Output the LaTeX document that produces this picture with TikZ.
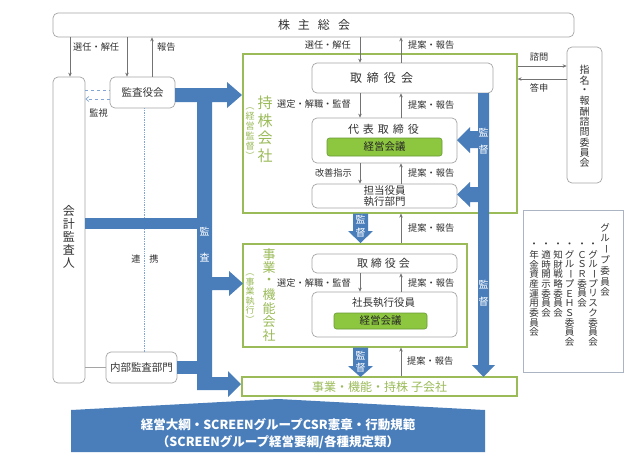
\documentclass[tikz,border=0pt]{standalone}
\usepackage{fontspec}
\usepackage{graphicx}
\setmainfont{Noto Sans CJK JP}
\usetikzlibrary{arrows.meta}
\definecolor{mblue}{RGB}{74,126,187}
\definecolor{bgreen}{RGB}{155,187,89}
\definecolor{fgreen}{RGB}{141,198,63}
\definecolor{dgreen}{RGB}{105,155,55}
\definecolor{bgray}{RGB}{165,165,165}
\definecolor{tgray}{RGB}{50,50,50}
\definecolor{arrgray}{RGB}{115,115,115}
\definecolor{lblue}{RGB}{130,165,215}
\definecolor{grpgray}{RGB}{170,180,195}
\ExplSyntaxOn
\dim_new:N \l_tate_step_dim
\cs_new:Npn \tate_char:n #1
  {
    \str_case:nnF {#1}
      {
        {ー}{\rotatebox[origin=c]{-90}{ー}}
        {（}{\rotatebox[origin=c]{-90}{（}}
        {）}{\rotatebox[origin=c]{-90}{）}}
      }
      {#1}
  }
\NewDocumentCommand \tate { O{1.1em} m }
  {
    \dim_set:Nn \l_tate_step_dim {#1}
    \vbox:n
      {
        \offinterlineskip
        \tl_map_inline:nn {#2}
          {
            \hbox_to_wd:nn {1.3em}
              { \hss \vbox_to_ht:nn {\l_tate_step_dim} { \vss \hbox:n { \tate_char:n {##1} } \vss } \hss }
          }
      }
  }
\ExplSyntaxOff
\begin{document}
\begin{tikzpicture}[x=1pt,y=-1pt,
  box/.style={draw=bgray, rounded corners=5pt, fill=white, line width=0.7pt, inner sep=0pt},
  gbox/.style={draw=bgreen, line width=1.2pt, fill=white, inner sep=0pt},
  kbox/.style={draw=dgreen, fill=fgreen, rounded corners=2.5pt, line width=0.6pt, inner sep=0pt, font=\fontsize{10.5}{12}\selectfont, text=black!85},
  arr/.style={draw=arrgray, line width=0.75pt, -{Stealth[length=4pt,width=3.5pt]}},
  lab/.style={font=\fontsize{9.2}{10}\selectfont, text=tgray, inner sep=0pt},
  blu/.style={fill=mblue, draw=none},
  wtx/.style={text=white, font=\fontsize{10}{11}\selectfont, inner sep=0pt},
  btx/.style={font=\fontsize{10.5}{12}\selectfont, text=black!80, inner sep=0pt},
  gtx/.style={text=bgreen, inner sep=0pt},
]
\fill[white] (0,0) rectangle (633,459);
\useasboundingbox (0,0) rectangle (633,459);

% ---------- boxes ----------
\node[box, minimum width=521pt, minimum height=24pt] (kabu) at (313.5,25) {};
\node[btx, font=\fontsize{12}{14}\selectfont] (kabut) at (314,25) {株\hspace{8pt}主\hspace{8pt}総\hspace{8pt}会};

\node[box, minimum width=32pt, minimum height=306pt] (kaikei) at (69,230) {};
\node[btx, font=\fontsize{12}{12}\selectfont] (kaikeit) at (69,237) {\tate[13.2pt]{会計監査人}};

\node[box, btx, minimum width=65pt, minimum height=31pt] (kansa) at (142.5,92.5) {監査役会};
\node[box, btx, minimum width=71pt, minimum height=31pt] (naibu) at (141.5,367.5) {内部監査部門};

\node[gbox, minimum width=274pt, minimum height=159pt] (hold) at (380,133.5) {};
\node[box, minimum width=181pt, minimum height=30pt] (bod1) at (402.5,78) {};
\node[btx, font=\fontsize{12}{14}\selectfont] (bod1t) at (381.5,78) {取\hspace{5pt}締\hspace{5pt}役\hspace{5pt}会};
\node[box, minimum width=145pt, minimum height=45pt] (rep) at (384.5,140.5) {};
\node[btx, font=\fontsize{11}{13}\selectfont] (rept) at (383.5,129) {代\hspace{4pt}表\hspace{4pt}取\hspace{4pt}締\hspace{4pt}役};
\node[kbox, minimum width=115pt, minimum height=18pt] (kei1) at (384.5,147) {経営会議};
\node[box, btx, minimum width=145pt, minimum height=24pt, align=center, font=\fontsize{10.5}{11.5}\selectfont] (tanto) at (384.5,196) {担当役員\\執行部門};

\node[box, minimum width=35pt, minimum height=136pt] (shimei) at (584.5,115) {};
\node[btx, font=\fontsize{10}{10}\selectfont] (shimeit) at (584.5,116.5) {\tate[10.3pt]{指名・報酬諮問委員会}};

\node[gbox, minimum width=224pt, minimum height=103pt] (sub) at (355,295.5) {};
\node[box, minimum width=145pt, minimum height=19pt] (bod2) at (384.5,263.5) {};
\node[btx, font=\fontsize{11}{13}\selectfont] (bod2t) at (383.5,263.5) {取\hspace{3pt}締\hspace{3pt}役\hspace{3pt}会};
\node[box, minimum width=145pt, minimum height=45pt] (pres) at (384.5,314.5) {};
\node[btx, font=\fontsize{10.5}{12}\selectfont] (prest) at (383.5,303) {社長執行役員};
\node[kbox, minimum width=93pt, minimum height=16pt] (kei2) at (380.5,321) {経営会議};

\node[gbox, minimum width=275pt, minimum height=19pt, gtx, font=\fontsize{12}{14}\selectfont] (kogai) at (379.5,386.5) {事業・機能・持株\hspace{3pt}子会社};

\node[draw=grpgray, line width=0.7pt, fill=white, minimum width=100pt, minimum height=162pt, inner sep=0pt] (group) at (573,291) {};

% green vertical titles
\node[gtx, font=\fontsize{15}{15}\selectfont] (holdt) at (265,129.5) {\tate[17.5pt]{持株会社}};
\node[gtx, font=\fontsize{9}{9}\selectfont] (holds) at (250,131) {\tate[10pt]{（経営監督）}};
\node[gtx, font=\fontsize{13}{13}\selectfont] (subt) at (269,295) {\tate[13.5pt]{事業・機能会社}};
\node[gtx, font=\fontsize{9}{9}\selectfont] (subs) at (250,296) {\tate[9.6pt]{（事業執行）}};

% group committee list
\begin{scope}[every node/.style={btx, font=\fontsize{9.5}{10}\selectfont, anchor=north}]
\node (g0) at (605,222) {\tate[10.8pt]{グループ委員会}};
\node (g1) at (593,240) {\tate[9.7pt]{・グループリスク委員会}};
\node (g2) at (582,240) {\tate[9.7pt]{・ＣＳＲ委員会}};
\node (g3) at (569.5,240) {\tate[9.7pt]{・グループＥＨＳ委員会}};
\node (g4) at (558,240) {\tate[9.7pt]{・知財戦略委員会}};
\node (g5) at (546,240) {\tate[9.7pt]{・適時開示委員会}};
\node (g6) at (534,240) {\tate[9.7pt]{・年金資産運用委員会}};
\end{scope}

% ---------- gray connectors ----------
\coordinate (xL) at (360,0);
\coordinate (xR) at (401,0);
\coordinate (xa) at (70,0);
\coordinate (xb) at (127,0);
\coordinate (xc) at (152,0);
\coordinate (xv) at (144,0);
\coordinate (yq) at (0,66);
\coordinate (ya) at (0,79);
\coordinate (yd1) at (0,90);
\coordinate (yd2) at (0,99);

\draw[arr] (kabu.south -| xL) -- (bod1.north -| xL);
\draw[arr] (bod1.north -| xR) -- (kabu.south -| xR);
\draw[arr] (bod1.south -| xL) -- (rep.north -| xL);
\draw[arr] (rep.north -| xR) -- (bod1.south -| xR);
\draw[arr] (rep.south -| xL) -- (tanto.north -| xL);
\draw[arr] (tanto.north -| xR) -- (rep.south -| xR);
\draw[arr] (sub.north -| xR) -- (hold.south -| xR);
\draw[arr] (bod2.south -| xL) -- (pres.north -| xL);
\draw[arr] (pres.north -| xR) -- (bod2.south -| xR);
\draw[arr] (kogai.north -| xR) -- (sub.south -| xR);
\draw[arr] (kabu.south -| xa) -- (kaikei.north -| xa);
\draw[arr] (kabu.south -| xb) -- (kansa.north -| xb);
\draw[arr] (kansa.north -| xc) -- (kabu.south -| xc);
\draw[arr] (hold.east |- yq) -- (shimei.west |- yq);
\draw[arr] (shimei.west |- ya) -- (hold.east |- ya);

\draw[lblue, dashed, line width=0.7pt] (kaikei.east |- yd1) -- (kansa.west |- yd1);
\draw[lblue, dashed, line width=0.7pt, -{Straight Barb[length=3pt,width=5pt]}] (kansa.west |- yd2) -- (kaikei.east |- yd2);
\draw[lblue, densely dotted, line width=0.7pt] (kansa.south -| xv) -- (naibu.north -| xv);
\draw[bgray, line width=0.7pt] (kaikei.east |- naibu.west) -- (naibu.west);

% ---------- blue arrows ----------
\fill[blu] (175,88) -- (227,88) -- (227,82) -- (242,95) -- (227,108) -- (227,102) -- (212,102)
  -- (212,277) -- (229,277) -- (229,271) -- (243,283.5) -- (229,296) -- (229,290) -- (212,290)
  -- (212,377) -- (228,377) -- (228,371) -- (241,384) -- (228,397) -- (228,390) -- (197,390)
  -- (197,102) -- (175,102) -- cycle;
\fill[blu] (85,218) rectangle (197.5,229);
\fill[blu] (177,361) rectangle (197.5,374);
\node[wtx] (ka1) at (204.5,232) {監};
\node[wtx] (ka2) at (204.5,258) {査};

\fill[blu] (478,93) -- (489,93) -- (489,365) -- (495,365) -- (483.5,377) -- (472,365) -- (478,365) -- cycle;
\fill[blu] (478.5,131) -- (470,131) -- (470,127) -- (457,140) -- (470,153) -- (470,148) -- (478.5,148) -- cycle;
\fill[blu] (478.5,187) -- (470,187) -- (470,182) -- (457,194.5) -- (470,207) -- (470,202) -- (478.5,202) -- cycle;
\node[wtx] (kt1) at (483.5,133) {監};
\node[wtx] (kt2) at (483.5,150) {督};
\node[wtx] (kt3) at (483.5,285) {監};
\node[wtx] (kt4) at (483.5,302) {督};

\fill[blu] (353,213.5) -- (368,213.5) -- (368,231) -- (373,231) -- (360.5,243) -- (348,231) -- (353,231) -- cycle;
\node[wtx] (kd1) at (360.5,220) {監};
\node[wtx] (kd2) at (360.5,232.5) {督};
\fill[blu] (353,347.5) -- (368,347.5) -- (368,366) -- (373,366) -- (360.5,377) -- (348,366) -- (353,366) -- cycle;
\node[wtx] (kd3) at (360.5,356) {監};
\node[wtx] (kd4) at (360.5,367.5) {督};

% ---------- labels ----------
\node[lab, anchor=west] (l1) at (73,47) {選任・解任};
\node[lab, anchor=west] (l2) at (157,47) {報告};
\node[lab, anchor=east] (l3) at (351,45) {選任・解任};
\node[lab, anchor=west] (l4) at (408,45) {提案・報告};
\node[lab, anchor=east] (l5) at (351,104) {選定・解職・監督};
\node[lab, anchor=west] (l6) at (408,105) {提案・報告};
\node[lab, anchor=east] (l7) at (352,173) {改善指示};
\node[lab, anchor=west] (l8) at (408,173) {提案・報告};
\node[lab, anchor=west] (l9) at (408,228) {提案・報告};
\node[lab, anchor=east] (l10) at (351,283) {選定・解職・監督};
\node[lab, anchor=west] (l11) at (408,283) {提案・報告};
\node[lab, anchor=west] (l12) at (407,361) {提案・報告};
\node[lab] (l13) at (539,57) {諮問};
\node[lab] (l14) at (539,88) {答申};
\node[lab] (l15) at (98.5,113) {監視};
\node[lab] (l16) at (136,259) {連};
\node[lab] (l17) at (154,259) {携};

% ---------- banner ----------
\fill[mblue] (71,410) -- (278,399) -- (485,410) -- (485,452) -- (71,452) -- cycle;
\node[text=white, inner sep=0pt, align=center, font=\bfseries\fontsize{12.5}{17}\selectfont] (banner) at (278,433.5) {経営大綱・SCREENグループCSR憲章・行動規範\\（SCREENグループ経営要綱/各種規定類）};
\end{tikzpicture}
\end{document}
